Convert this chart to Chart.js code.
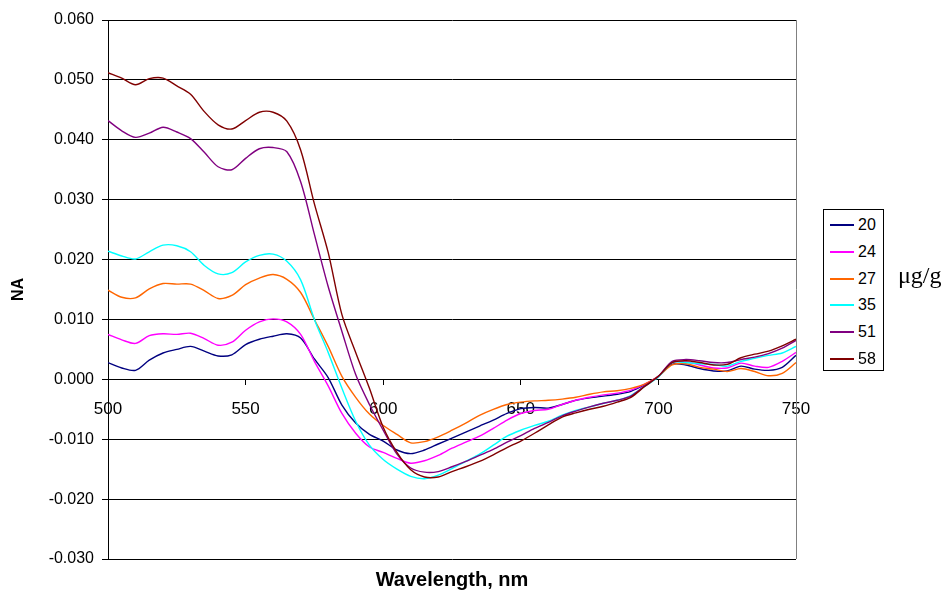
<!DOCTYPE html>
<html>
<head>
<meta charset="utf-8">
<script src="https://cdn.jsdelivr.net/npm/chart.js@4.4.1/dist/chart.umd.min.js"></script>
<style>
  html, body { margin: 0; padding: 0; background: #fff; }
  #wrap { position: relative; width: 951px; height: 608px; }
  #c { position: absolute; left: 0; top: 0; }
  #legend { position: absolute; left: 823px; top: 209px; width: 59px; height: 160px;
            border: 1px solid #000; background: #fff; box-sizing: content-box;
            font-family: "Liberation Sans", Arial, sans-serif; font-size: 16px; color: #000; }
  .item { position: absolute; left: 0; height: 20px; width: 59px; }
  .sw { position: absolute; left: 6px; top: 9px; width: 24px; height: 2px; }
  .lb { position: absolute; left: 34px; top: 0; line-height: 20px; }
  #unit { position: absolute; left: 898px; top: 262px; font-family: "Liberation Serif", "Times New Roman", serif;
          font-size: 24px; color: #000; }
</style>
</head>
<body>
<div id="wrap">
  <canvas id="c" width="951" height="608"></canvas>
  <div id="legend"></div>
  <div id="unit">μg/g</div>
</div>
<script>
const wavelengths = [500,505,510,515,520,525,530,535,540,545,550,555,560,565,570,575,580,585,590,595,600,605,610,615,620,625,630,635,640,645,650,655,660,665,670,675,680,685,690,695,700,705,710,715,720,725,730,735,740,745,750];

const seriesLabels = ["20", "24", "27", "35", "51", "58"];
const seriesColors = ["#000080", "#FF00FF", "#FF6600", "#00FFFF", "#800080", "#800000"];

const s20 = [0.0028,0.0019,0.0015,0.0032,0.0044,0.0050,0.0055,0.0047,0.0039,0.0041,0.0058,0.0067,0.0072,0.0076,0.0069,0.0034,0.0003,-0.0043,-0.0073,-0.0092,-0.0103,-0.0118,-0.0124,-0.0118,-0.0108,-0.0098,-0.0088,-0.0078,-0.0068,-0.0057,-0.0049,-0.0047,-0.0048,-0.0042,-0.0035,-0.0031,-0.0028,-0.0025,-0.0020,-0.0009,0.0005,0.0025,0.0024,0.0018,0.0014,0.0014,0.0022,0.0017,0.0015,0.0020,0.0040];
const s24 = [0.0075,0.0066,0.0060,0.0073,0.0076,0.0075,0.0077,0.0068,0.0057,0.0062,0.0082,0.0096,0.0101,0.0096,0.0075,0.0030,-0.0011,-0.0057,-0.0090,-0.0113,-0.0122,-0.0132,-0.0140,-0.0136,-0.0127,-0.0115,-0.0105,-0.0095,-0.0082,-0.0068,-0.0057,-0.0052,-0.0050,-0.0042,-0.0035,-0.0030,-0.0026,-0.0023,-0.0018,-0.0008,0.0005,0.0028,0.0029,0.0024,0.0019,0.0019,0.0027,0.0022,0.0020,0.0030,0.0045];
const s27 = [0.0149,0.0137,0.0136,0.0151,0.0160,0.0159,0.0159,0.0148,0.0135,0.0140,0.0158,0.0169,0.0175,0.0167,0.0145,0.0100,0.0055,0.0005,-0.0030,-0.0058,-0.0077,-0.0092,-0.0106,-0.0104,-0.0096,-0.0085,-0.0073,-0.0060,-0.0050,-0.0042,-0.0038,-0.0036,-0.0035,-0.0033,-0.0030,-0.0025,-0.0021,-0.0019,-0.0015,-0.0008,0.0005,0.0024,0.0026,0.0020,0.0017,0.0013,0.0018,0.0013,0.0006,0.0010,0.0028];
const s35 = [0.0214,0.0206,0.0201,0.0213,0.0224,0.0223,0.0213,0.0190,0.0176,0.0178,0.0196,0.0207,0.0209,0.0197,0.0166,0.0100,0.0045,-0.0015,-0.0070,-0.0110,-0.0134,-0.0150,-0.0162,-0.0166,-0.0160,-0.0149,-0.0137,-0.0125,-0.0110,-0.0095,-0.0085,-0.0077,-0.0070,-0.0060,-0.0052,-0.0046,-0.0040,-0.0035,-0.0027,-0.0012,0.0004,0.0028,0.0028,0.0026,0.0025,0.0022,0.0030,0.0035,0.0040,0.0044,0.0055];
const s51 = [0.0432,0.0415,0.0404,0.0411,0.0421,0.0413,0.0402,0.0379,0.0355,0.0350,0.0369,0.0385,0.0387,0.0380,0.0330,0.0242,0.0155,0.0080,0.0008,-0.0042,-0.0085,-0.0125,-0.0148,-0.0155,-0.0154,-0.0146,-0.0137,-0.0127,-0.0117,-0.0105,-0.0094,-0.0082,-0.0072,-0.0061,-0.0053,-0.0046,-0.0040,-0.0035,-0.0028,-0.0011,0.0005,0.0030,0.0033,0.0031,0.0028,0.0028,0.0033,0.0037,0.0043,0.0052,0.0065];
const s58 = [0.0512,0.0503,0.0492,0.0502,0.0503,0.0490,0.0476,0.0447,0.0425,0.0418,0.0432,0.0446,0.0446,0.0431,0.0383,0.0293,0.0212,0.0108,0.0045,-0.0015,-0.0080,-0.0122,-0.0151,-0.0163,-0.0163,-0.0154,-0.0146,-0.0137,-0.0126,-0.0114,-0.0103,-0.0090,-0.0076,-0.0063,-0.0056,-0.0050,-0.0045,-0.0038,-0.0030,-0.0012,0.0005,0.0028,0.0031,0.0028,0.0024,0.0025,0.0036,0.0042,0.0047,0.0056,0.0067];

const seriesValues = [s20, s24, s27, s35, s51, s58];

const xTicks = [500, 550, 600, 650, 700, 750];
const yTicks = [-0.03, -0.02, -0.01, 0, 0.01, 0.02, 0.03, 0.04, 0.05, 0.06];

const FONT = '"Liberation Sans", Arial, sans-serif';

const datasets = seriesValues.map((vals, i) => ({
  label: seriesLabels[i],
  data: vals.map((v, k) => ({ x: wavelengths[k], y: v })),
  borderColor: seriesColors[i],
  backgroundColor: seriesColors[i],
  borderWidth: 1.4,
  pointRadius: 0,
  tension: 0.3,
  fill: false,
  order: seriesValues.length - i
}));

const frame = {
  id: 'frame',
  afterDraw(chart) {
    const { ctx, chartArea: a } = chart;
    ctx.save();
    ctx.strokeStyle = '#808080';
    ctx.lineWidth = 1;
    ctx.beginPath();
    ctx.moveTo(Math.round(a.right) + 0.5, a.top);
    ctx.lineTo(Math.round(a.right) + 0.5, a.bottom);
    ctx.stroke();
    ctx.fillStyle = '#000';
    ctx.font = 'bold 20px ' + FONT;
    ctx.textAlign = 'center';
    ctx.textBaseline = 'middle';
    ctx.fillText('Wavelength, nm', (a.left + a.right) / 2, 580);
    ctx.restore();
  }
};

new Chart(document.getElementById('c'), {
  type: 'line',
  data: { datasets },
  plugins: [frame],
  options: {
    responsive: false,
    animation: false,
    layout: { padding: { left: 0, top: 20, right: 155, bottom: 49 } },
    plugins: { legend: { display: false }, tooltip: { enabled: false } },
    scales: {
      x: {
        type: 'linear',
        position: { y: 0 },
        min: 500, max: 750,
        afterBuildTicks(scale) { scale.ticks = xTicks.map(v => ({ value: v })); },
        ticks: { color: '#000', font: { family: FONT, size: 17 }, padding: 15, maxRotation: 0,
                 callback: v => String(v) },
        grid: { drawOnChartArea: false, drawTicks: true, tickLength: 5, color: '#000' },
        border: { display: true, color: '#000', width: 1 }
      },
      y: {
        type: 'linear',
        min: -0.03, max: 0.06,
        afterBuildTicks(scale) { scale.ticks = yTicks.map(v => ({ value: v })); },
        afterFit(scale) { scale.width = 108; },
        ticks: { color: '#000', font: { family: FONT, size: 16 }, padding: 8,
                 callback: v => (Math.abs(v) < 1e-9 ? 0 : v).toFixed(3) },
        grid: { color: '#000', lineWidth: 1, tickLength: 6 },
        border: { display: true, color: '#000', width: 1 },
        title: { display: true, text: 'NA', color: '#000', font: { family: FONT, size: 16, weight: 'bold' },
                 padding: { top: 9, bottom: 0 } }
      }
    }
  }
});

const leg = document.getElementById('legend');
seriesLabels.forEach((lab, i) => {
  const it = document.createElement('div');
  it.className = 'item';
  it.style.top = (5 + i * 26.8) + 'px';
  it.innerHTML = '<div class="sw" style="background:' + seriesColors[i] + '"></div><div class="lb">' + lab + '</div>';
  leg.appendChild(it);
});
</script>
</body>
</html>
